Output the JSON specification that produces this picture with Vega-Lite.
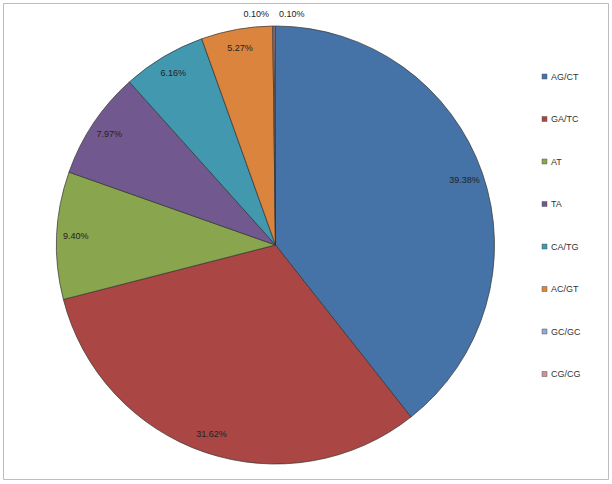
{
  "$schema": "https://vega.github.io/schema/vega-lite/v6.json",
  "autosize": {"type": "none"},
  "width": 605,
  "height": 476,
  "padding": {"left": 3, "top": 3, "right": 4, "bottom": 5},
  "background": "white",
  "view": {"stroke": "#bdbdbd", "strokeWidth": 1, "fill": "white"},
  "config": {
    "font": "Liberation Sans"
  },
  "data": {
    "values": [
      {"idx": 1, "motif": "AG/CT", "value": 39.38, "label": "39.38%"},
      {"idx": 2, "motif": "GA/TC", "value": 31.62, "label": "31.62%"},
      {"idx": 3, "motif": "AT", "value": 9.40, "label": "9.40%"},
      {"idx": 4, "motif": "TA", "value": 7.97, "label": "7.97%"},
      {"idx": 5, "motif": "CA/TG", "value": 6.16, "label": "6.16%"},
      {"idx": 6, "motif": "AC/GT", "value": 5.27, "label": "5.27%"},
      {"idx": 7, "motif": "GC/GC", "value": 0.10, "label": "0.10%"},
      {"idx": 8, "motif": "CG/CG", "value": 0.10, "label": "0.10%"}
    ]
  },
  "encoding": {
    "theta": {"field": "value", "type": "quantitative", "stack": true},
    "order": {"field": "idx", "type": "quantitative"}
  },
  "layer": [
    {
      "mark": {"type": "arc", "outerRadius": 219, "stroke": "#333333", "strokeWidth": 0.7, "x": {"expr": "width/2 - 30"}, "y": {"expr": "height/2 + 4"}},
      "encoding": {
        "color": {
          "field": "motif",
          "type": "nominal",
          "sort": ["AG/CT", "GA/TC", "AT", "TA", "CA/TG", "AC/GT", "GC/GC", "CG/CG"],
          "scale": {
            "domain": ["AG/CT", "GA/TC", "AT", "TA", "CA/TG", "AC/GT", "GC/GC", "CG/CG"],
            "range": ["#4572A7", "#AA4643", "#89A54E", "#71588F", "#4198AF", "#DB843D", "#93A9CF", "#D19392"]
          },
          "legend": {
            "orient": "none",
            "legendX": 537,
            "legendY": 69,
            "title": null,
            "symbolType": "square",
            "symbolSize": 25,
            "symbolStrokeColor": "#555555",
            "symbolStrokeWidth": 0.5,
            "labelFont": "Liberation Sans",
            "labelFontSize": 9,
            "labelColor": "#333333",
            "labelOffset": 2,
            "rowPadding": 32.5
          }
        }
      }
    },
    {
      "mark": {"type": "text", "radius": 200, "fontSize": 9, "font": "Liberation Sans", "color": "#222222", "x": {"expr": "width/2 - 30"}, "y": {"expr": "height/2 + 4"}},
      "encoding": {
        "text": {"condition": {"test": "datum.value > 1", "field": "label"}, "value": ""}
      }
    },
    {
      "mark": {"type": "text", "radius": 231, "dx": -17, "fontSize": 9, "font": "Liberation Sans", "color": "#222222", "x": {"expr": "width/2 - 30"}, "y": {"expr": "height/2 + 4"}},
      "encoding": {
        "text": {"condition": {"test": "datum.motif === 'GC/GC'", "field": "label"}, "value": ""}
      }
    },
    {
      "mark": {"type": "text", "radius": 231, "dx": 17, "fontSize": 9, "font": "Liberation Sans", "color": "#222222", "x": {"expr": "width/2 - 30"}, "y": {"expr": "height/2 + 4"}},
      "encoding": {
        "text": {"condition": {"test": "datum.motif === 'CG/CG'", "field": "label"}, "value": ""}
      }
    }
  ]
}
